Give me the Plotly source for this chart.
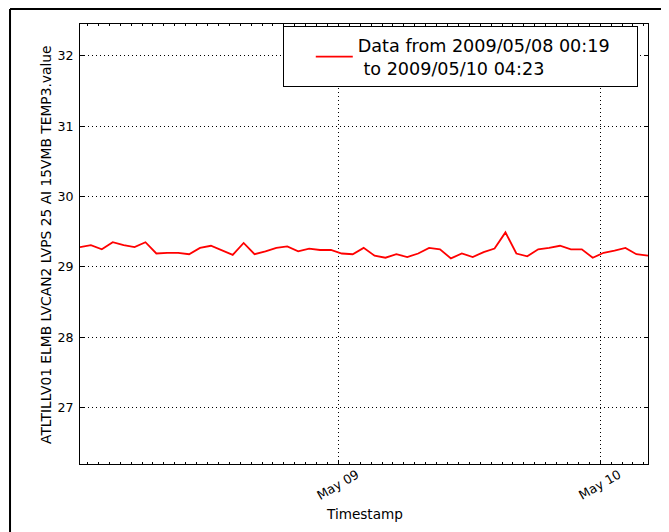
import plotly.graph_objects as go

timestamps = [
    "2009-05-08 00:19", "2009-05-08 01:19", "2009-05-08 02:19", "2009-05-08 03:19",
    "2009-05-08 04:19", "2009-05-08 05:19", "2009-05-08 06:19", "2009-05-08 07:19",
    "2009-05-08 08:19", "2009-05-08 09:19", "2009-05-08 10:19", "2009-05-08 11:19",
    "2009-05-08 12:19", "2009-05-08 13:19", "2009-05-08 14:19", "2009-05-08 15:19",
    "2009-05-08 16:19", "2009-05-08 17:19", "2009-05-08 18:19", "2009-05-08 19:19",
    "2009-05-08 20:19", "2009-05-08 21:19", "2009-05-08 22:19", "2009-05-08 23:19",
    "2009-05-09 00:19", "2009-05-09 01:19", "2009-05-09 02:19", "2009-05-09 03:19",
    "2009-05-09 04:19", "2009-05-09 05:19", "2009-05-09 06:19", "2009-05-09 07:19",
    "2009-05-09 08:19", "2009-05-09 09:19", "2009-05-09 10:19", "2009-05-09 11:19",
    "2009-05-09 12:19", "2009-05-09 13:19", "2009-05-09 14:19", "2009-05-09 15:19",
    "2009-05-09 16:19", "2009-05-09 17:19", "2009-05-09 18:19", "2009-05-09 19:19",
    "2009-05-09 20:19", "2009-05-09 21:19", "2009-05-09 22:19", "2009-05-09 23:19",
    "2009-05-10 00:19", "2009-05-10 01:19", "2009-05-10 02:19", "2009-05-10 03:19",
    "2009-05-10 04:23",
]

temp_values = [
    29.28, 29.31, 29.25, 29.35, 29.31, 29.28, 29.35, 29.19, 29.20, 29.20,
    29.18, 29.27, 29.30, 29.24, 29.17, 29.34, 29.18, 29.22, 29.27, 29.29,
    29.22, 29.26, 29.24, 29.24, 29.19, 29.18, 29.27, 29.16, 29.13, 29.18,
    29.14, 29.19, 29.27, 29.25, 29.12, 29.19, 29.14, 29.21, 29.26, 29.49,
    29.19, 29.15, 29.25, 29.27, 29.30, 29.25, 29.25, 29.13, 29.20, 29.23,
    29.27, 29.18, 29.16,
]

x_tick_vals = ["2009-05-09", "2009-05-10"]
x_tick_text = ["May 09", "May 10"]
y_tick_vals = [27, 28, 29, 30, 31, 32]

NB = "\u00a0"
legend_name = "Data from 2009/05/08 00:19" + NB * 4 + "<br>" + NB + "to 2009/05/10 04:23"
y_title = "ATLTILLV01 ELMB LVCAN2 LVPS 25 AI 15VMB TEMP3.value"
x_title = "Timestamp"

FONT = "DejaVu Sans"

fig = go.Figure()
fig.add_trace(go.Scatter(
    x=timestamps, y=temp_values, mode="lines",
    line=dict(color="#ff0000", width=1.8),
    name=legend_name, showlegend=True,
))

axis_common = dict(
    showline=True, linecolor="black", linewidth=1, mirror="ticks",
    ticks="inside", ticklen=4, tickcolor="black", tickwidth=1,
    showgrid=True, gridcolor="black", gridwidth=0.8, griddash="1px,3px",
    zeroline=False,
)

# page body has an 8px margin: figure is sized so the page is exactly 669x532
fig.update_layout(
    width=661, height=524,
    margin=dict(l=72, r=21, t=16, b=68),
    paper_bgcolor="white", plot_bgcolor="white",
    font=dict(family=FONT, color="black", size=13),
    xaxis=dict(
        type="date", range=[timestamps[0], timestamps[-1]],
        tickvals=x_tick_vals, showticklabels=False,
        minor=dict(dtick=3600000, tick0="2009-05-08 00:00", ticks="inside",
                   ticklen=2, tickcolor="black", showgrid=False),
        **axis_common,
    ),
    yaxis=dict(
        range=[26.2, 32.45], tickvals=y_tick_vals,
        tickfont=dict(family=FONT, size=12.6, color="black"),
        ticklabelstandoff=3,
        **axis_common,
    ),
    legend=dict(
        x=0.9824, xanchor="right", y=0.995, yanchor="top",
        bgcolor="white", bordercolor="black", borderwidth=1,
        font=dict(family=FONT, size=17.6, color="black"),
        itemwidth=37,
        title=dict(text=NB * 3, side="left", font=dict(family=FONT, size=17.6)),
    ),
)

# rotated date labels centred on their ticks
for tv, tt in zip(x_tick_vals, x_tick_text):
    fig.add_annotation(x=tv, xref="x", y=-0.0477, yref="paper",
                       text=tt, textangle=-30, showarrow=False,
                       xanchor="center", yanchor="middle",
                       font=dict(family=FONT, size=12.6, color="black"))

fig.add_annotation(x=0.5, xref="paper", y=-0.1136, yref="paper",
                   text=x_title, showarrow=False, xanchor="center", yanchor="middle",
                   font=dict(family=FONT, size=13.6, color="black"))
fig.add_annotation(x=-0.0599, xref="paper", y=0.5, yref="paper",
                   text=y_title, textangle=-90, showarrow=False,
                   xanchor="center", yanchor="middle",
                   font=dict(family=FONT, size=13.8, color="black"))

# outer figure frame (partially cut off in the original)
fig.add_shape(type="line", xref="paper", yref="paper",
              x0=-0.1232, x1=-0.1232, y0=-0.3, y1=1.0341,
              line=dict(color="black", width=2))
fig.add_shape(type="line", xref="paper", yref="paper",
              x0=-0.1232, x1=1.2, y0=1.0341, y1=1.0341,
              line=dict(color="black", width=2))

fig.write_html("out.html")
